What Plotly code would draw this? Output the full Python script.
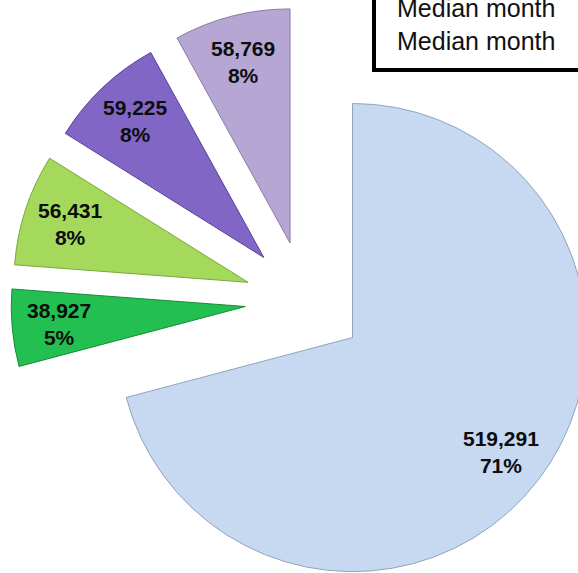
import math
import plotly.graph_objects as go

# ---- data ----
categories = ["Group 1", "Group 2", "Group 3", "Group 4", "Group 5"]
values = [519291, 38927, 56431, 59225, 58769]
slice_colors = ["#c6d9f1", "#23c051", "#a4d95c", "#8166c6", "#b5a6d4"]
edge_colors = ["#8fa4bd", "#168a38", "#77a83a", "#56409a", "#8a7aa8"]
box_lines = ["Median month", "Median month"]

# ---- layout geometry ----
W, H = 600, 600
cx, cy, half = 305, 301, 294  # pie domain centre / half size in px
pull = 0.256
label_frac = 0.8              # labels sit at 80% of the radius, like the original
dom = dict(x=[(cx - half) / W, (cx + half) / W],
           y=[(H - (cy + half)) / H, (H - (cy - half)) / H])
label_font = dict(family="Arial, Liberation Sans, sans-serif", size=21, color="#0d0d0d")

fig = go.Figure()
fig.add_trace(go.Pie(
    labels=categories, values=values, sort=False,
    direction="clockwise", rotation=0, pull=[pull] * len(values),
    marker=dict(colors=slice_colors, line=dict(color=edge_colors, width=1)),
    textinfo="none",
    hoverinfo="label+value+percent",
    showlegend=False, domain=dom,
))

# data labels: value and percent, placed along each slice's bisector
total = sum(values)
r = half / (1 + pull)
start = 0.0
for v in values:
    share = v / total
    mid = 2 * math.pi * (start + share / 2)   # clockwise from 12 o'clock
    start += share
    d = r * (pull + label_frac)
    px = cx + d * math.sin(mid)
    py = (H - cy) + d * math.cos(mid)
    fig.add_annotation(
        xref="paper", yref="paper", x=px / W, y=py / H,
        xanchor="center", yanchor="middle", showarrow=False,
        text=f"<b>{v:,}<br>{round(share * 100)}%</b>", font=label_font,
    )

# text box at top right
fig.add_shape(type="rect", xref="paper", yref="paper",
              x0=374 / W, x1=1.2, y0=(H - 70) / H, y1=1.2,
              line=dict(color="#000000", width=4), fillcolor="#ffffff", layer="above")
fig.add_annotation(xref="paper", yref="paper", x=395 / W, y=(H - 25) / H,
                   xanchor="left", yanchor="middle", showarrow=False,
                   align="left", text="<br>".join(box_lines),
                   font=dict(family="Arial, Liberation Sans, sans-serif", size=25, color="#111111"))

fig.update_layout(
    width=W, height=H,
    margin=dict(l=0, r=0, t=0, b=0),
    paper_bgcolor="#ffffff",
    plot_bgcolor="#ffffff",
)

fig.write_html("out.html", config={"displayModeBar": False},
               post_script="document.body.style.margin='0';document.body.style.overflow='hidden';document.documentElement.style.overflow='hidden';")
